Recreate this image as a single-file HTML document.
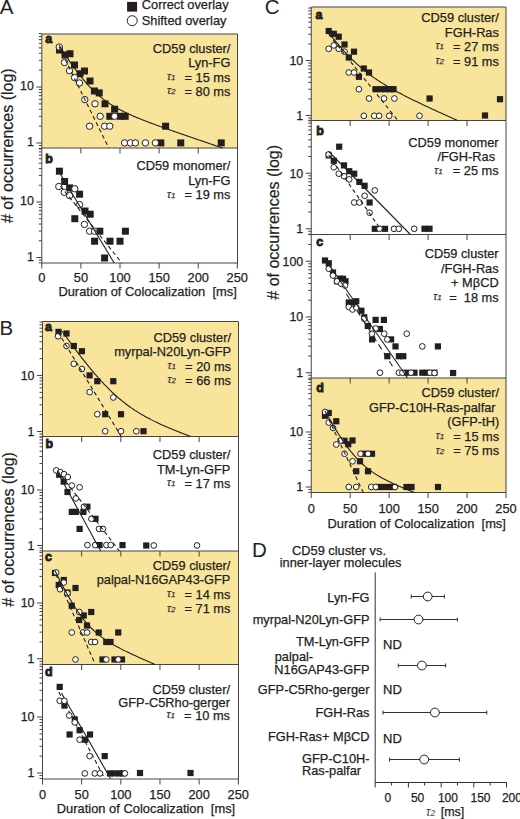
<!DOCTYPE html><html><head><meta charset="utf-8"><style>html,body{margin:0;padding:0;background:#fff;width:520px;height:819px;overflow:hidden}svg{display:block}text{font-family:"Liberation Sans",sans-serif}</style></head><body><svg width="520" height="819" viewBox="0 0 520 819" font-family="Liberation Sans, sans-serif">
<rect width="520" height="819" fill="#fff"/>
<text x="-0.2" y="13.6" font-size="20.5" text-anchor="start" font-weight="normal" font-style="normal" fill="#231f20"  >A</text>
<rect x="127.1" y="1.9" width="10" height="9.7" fill="#231f20"/>
<circle cx="132.2" cy="20.7" r="5" fill="#fff" stroke="#231f20" stroke-width="1"/>
<text x="141.8" y="9.2" font-size="12.8" text-anchor="start" font-weight="normal" font-style="normal" fill="#231f20"  stroke="#231f20" stroke-width="0.25">Correct overlay</text>
<text x="141.8" y="24.9" font-size="12.8" text-anchor="start" font-weight="normal" font-style="normal" fill="#231f20"  stroke="#231f20" stroke-width="0.25">Shifted overlay</text>
<rect x="41.8" y="34" width="195.7" height="114" fill="#f8e49b"/>
<path d="M38.80,148.43H41.8 M38.80,145.56H41.8 M36.30,143.00H41.8 M38.80,126.14H41.8 M38.80,116.28H41.8 M38.80,109.28H41.8 M38.80,103.86H41.8 M38.80,99.42H41.8 M38.80,95.67H41.8 M38.80,92.43H41.8 M38.80,89.56H41.8 M36.30,87.00H41.8 M38.80,70.14H41.8 M38.80,60.28H41.8 M38.80,53.28H41.8 M38.80,47.86H41.8 M38.80,43.42H41.8 M38.80,39.67H41.8 M38.80,36.43H41.8 M38.80,33.56H41.8" stroke="#4a4244" stroke-width="1" fill="none"/>
<text x="33.80" y="146.20" font-size="12.4" text-anchor="end" font-weight="normal" font-style="normal" fill="#231f20"  stroke="#231f20" stroke-width="0.25">1</text>
<text x="33.80" y="90.20" font-size="12.4" text-anchor="end" font-weight="normal" font-style="normal" fill="#231f20"  stroke="#231f20" stroke-width="0.25">10</text>
<path d="M38.80,262.88H41.8 M38.80,260.04H41.8 M36.30,257.50H41.8 M38.80,240.79H41.8 M38.80,231.02H41.8 M38.80,224.09H41.8 M38.80,218.71H41.8 M38.80,214.31H41.8 M38.80,210.60H41.8 M38.80,207.38H41.8 M38.80,204.54H41.8 M36.30,202.00H41.8 M38.80,185.29H41.8 M38.80,175.52H41.8 M38.80,168.59H41.8 M38.80,163.21H41.8 M38.80,158.81H41.8 M38.80,155.10H41.8 M38.80,151.88H41.8 M38.80,149.04H41.8" stroke="#4a4244" stroke-width="1" fill="none"/>
<text x="33.80" y="260.70" font-size="12.4" text-anchor="end" font-weight="normal" font-style="normal" fill="#231f20"  stroke="#231f20" stroke-width="0.25">1</text>
<text x="33.80" y="205.20" font-size="12.4" text-anchor="end" font-weight="normal" font-style="normal" fill="#231f20"  stroke="#231f20" stroke-width="0.25">10</text>
<path d="M41.8,34H237.5V263H41.8Z M41.8,148H237.5" stroke="#4a4244" stroke-width="1" fill="none"/>
<path d="M80.90,148v5.5 M120.00,148v5.5 M159.10,148v5.5 M198.20,148v5.5" stroke="#4a4244" stroke-width="1" fill="none"/>
<path d="M41.80,263v5.5 M80.90,263v5.5 M120.00,263v5.5 M159.10,263v5.5 M198.20,263v5.5 M237.30,263v5.5" stroke="#4a4244" stroke-width="1" fill="none"/>
<text x="41.80" y="281.8" font-size="12.8" text-anchor="middle" font-weight="normal" font-style="normal" fill="#231f20"  stroke="#231f20" stroke-width="0.25">0</text>
<text x="80.90" y="281.8" font-size="12.8" text-anchor="middle" font-weight="normal" font-style="normal" fill="#231f20"  stroke="#231f20" stroke-width="0.25">50</text>
<text x="120.00" y="281.8" font-size="12.8" text-anchor="middle" font-weight="normal" font-style="normal" fill="#231f20"  stroke="#231f20" stroke-width="0.25">100</text>
<text x="159.10" y="281.8" font-size="12.8" text-anchor="middle" font-weight="normal" font-style="normal" fill="#231f20"  stroke="#231f20" stroke-width="0.25">150</text>
<text x="198.20" y="281.8" font-size="12.8" text-anchor="middle" font-weight="normal" font-style="normal" fill="#231f20"  stroke="#231f20" stroke-width="0.25">200</text>
<text x="237.30" y="281.8" font-size="12.8" text-anchor="middle" font-weight="normal" font-style="normal" fill="#231f20"  stroke="#231f20" stroke-width="0.25">250</text>
<text x="58.4" y="296.3" font-size="12.9" text-anchor="start" font-weight="normal" font-style="normal" fill="#231f20"  stroke="#231f20" stroke-width="0.25">Duration of Colocalization&#160; [ms]</text>
<text transform="translate(13.2,145.7) rotate(-90)" x="0" y="0" font-size="16" text-anchor="middle" fill="#231f20" stroke="#231f20" stroke-width="0.2">#&#160;of occurrences (log)</text>
<text x="45.2" y="42.8" font-size="12.4" text-anchor="start" font-weight="bold" font-style="normal" fill="#231f20"  stroke="#231f20" stroke-width="0.9">a</text>
<text x="45.2" y="163.1" font-size="12.4" text-anchor="start" font-weight="bold" font-style="normal" fill="#231f20"  stroke="#231f20" stroke-width="0.9">b</text>
<text x="230.4" y="52.60" font-size="12.8" text-anchor="end" font-weight="normal" font-style="normal" fill="#231f20"  stroke="#231f20" stroke-width="0.25">CD59 cluster/</text>
<text x="230.4" y="67.10" font-size="12.8" text-anchor="end" font-weight="normal" font-style="normal" fill="#231f20"  stroke="#231f20" stroke-width="0.25">Lyn-FG</text>
<text x="230.4" y="81.60" font-size="12.8" text-anchor="end" font-weight="normal" font-style="normal" fill="#231f20"  stroke="#231f20" stroke-width="0.25">= 15 ms</text>
<text x="167.00" y="79.70" font-size="10.5" font-style="italic" fill="#3a3234" stroke="#3a3234" stroke-width="0.25" font-family="Liberation Serif">τ<tspan font-size="8">1</tspan></text>
<text x="230.4" y="96.10" font-size="12.8" text-anchor="end" font-weight="normal" font-style="normal" fill="#231f20"  stroke="#231f20" stroke-width="0.25">= 80 ms</text>
<text x="167.00" y="94.20" font-size="10.5" font-style="italic" fill="#3a3234" stroke="#3a3234" stroke-width="0.25" font-family="Liberation Serif">τ<tspan font-size="8">2</tspan></text>
<text x="230.4" y="170.40" font-size="12.8" text-anchor="end" font-weight="normal" font-style="normal" fill="#231f20"  stroke="#231f20" stroke-width="0.25">CD59 monomer/</text>
<text x="230.4" y="184.90" font-size="12.8" text-anchor="end" font-weight="normal" font-style="normal" fill="#231f20"  stroke="#231f20" stroke-width="0.25">Lyn-FG</text>
<text x="230.4" y="199.40" font-size="12.8" text-anchor="end" font-weight="normal" font-style="normal" fill="#231f20"  stroke="#231f20" stroke-width="0.25">= 19 ms</text>
<text x="167.00" y="197.50" font-size="10.5" font-style="italic" fill="#3a3234" stroke="#3a3234" stroke-width="0.25" font-family="Liberation Serif">τ<tspan font-size="8">1</tspan></text>
<g fill="#231f20"><rect x="56.00" y="46.50" width="7" height="7"/><rect x="61.50" y="51.50" width="7" height="7"/><rect x="66.50" y="50.25" width="7" height="7"/><rect x="71.00" y="61.50" width="7" height="7"/><rect x="76.50" y="70.25" width="7" height="7"/><rect x="81.00" y="67.50" width="7" height="7"/><rect x="86.50" y="77.50" width="7" height="7"/><rect x="90.90" y="87.50" width="7" height="7"/><rect x="95.70" y="89.40" width="7" height="7"/><rect x="101.50" y="100.30" width="7" height="7"/><rect x="111.10" y="105.70" width="7" height="7"/><rect x="106.30" y="112.80" width="7" height="7"/><rect x="116.90" y="112.80" width="7" height="7"/><rect x="121.70" y="112.80" width="7" height="7"/><rect x="162.10" y="122.70" width="7" height="7"/><rect x="157.30" y="139.40" width="7" height="7"/><rect x="177.25" y="139.40" width="7" height="7"/><rect x="217.75" y="139.40" width="7" height="7"/></g>
<g fill="#fff" stroke="#231f20" stroke-width="1"><circle cx="59.25" cy="47.00" r="3.2"/><circle cx="64.50" cy="62.50" r="3.2"/><circle cx="69.50" cy="70.75" r="3.2"/><circle cx="74.50" cy="77.50" r="3.2"/><circle cx="79.50" cy="83.00" r="3.2"/><circle cx="84.80" cy="99.60" r="3.2"/><circle cx="95.00" cy="103.80" r="3.2"/><circle cx="100.20" cy="116.30" r="3.2"/><circle cx="114.60" cy="116.30" r="3.2"/><circle cx="89.60" cy="126.20" r="3.2"/><circle cx="104.60" cy="126.20" r="3.2"/><circle cx="109.80" cy="126.20" r="3.2"/><circle cx="124.60" cy="142.90" r="3.2"/><circle cx="130.40" cy="142.90" r="3.2"/><circle cx="135.40" cy="142.90" r="3.2"/><circle cx="145.40" cy="142.90" r="3.2"/><circle cx="155.40" cy="142.90" r="3.2"/></g>
<g fill="#231f20"><rect x="55.90" y="167.70" width="7" height="7"/><rect x="61.10" y="178.00" width="7" height="7"/><rect x="66.10" y="184.40" width="7" height="7"/><rect x="76.10" y="190.70" width="7" height="7"/><rect x="81.50" y="207.50" width="7" height="7"/><rect x="86.70" y="210.70" width="7" height="7"/><rect x="71.30" y="215.20" width="7" height="7"/><rect x="96.30" y="227.70" width="7" height="7"/><rect x="121.90" y="227.70" width="7" height="7"/><rect x="91.10" y="237.70" width="7" height="7"/><rect x="106.50" y="237.70" width="7" height="7"/><rect x="116.50" y="237.70" width="7" height="7"/><rect x="101.10" y="254.50" width="7" height="7"/></g>
<g fill="#fff" stroke="#231f20" stroke-width="1"><circle cx="58.80" cy="186.50" r="3.2"/><circle cx="64.20" cy="192.30" r="3.2"/><circle cx="69.60" cy="195.60" r="3.2"/><circle cx="74.80" cy="188.80" r="3.2"/><circle cx="79.60" cy="204.60" r="3.2"/><circle cx="84.40" cy="224.40" r="3.2"/><circle cx="89.60" cy="231.20" r="3.2"/><circle cx="94.60" cy="231.20" r="3.2"/></g>
<text x="-0.5" y="335.2" font-size="20.5" text-anchor="start" font-weight="normal" font-style="normal" fill="#231f20"  >B</text>
<rect x="42.5" y="321.5" width="196.0" height="115" fill="#f8e49b"/>
<rect x="42.5" y="551" width="196.0" height="113.5" fill="#f8e49b"/>
<path d="M39.50,436.93H42.5 M39.50,434.06H42.5 M37.00,431.50H42.5 M39.50,414.64H42.5 M39.50,404.78H42.5 M39.50,397.78H42.5 M39.50,392.36H42.5 M39.50,387.92H42.5 M39.50,384.17H42.5 M39.50,380.93H42.5 M39.50,378.06H42.5 M37.00,375.50H42.5 M39.50,358.64H42.5 M39.50,348.78H42.5 M39.50,341.78H42.5 M39.50,336.36H42.5 M39.50,331.92H42.5 M39.50,328.17H42.5 M39.50,324.93H42.5 M39.50,322.06H42.5" stroke="#4a4244" stroke-width="1" fill="none"/>
<text x="34.50" y="435.80" font-size="12.4" text-anchor="end" font-weight="normal" font-style="normal" fill="#231f20"  stroke="#231f20" stroke-width="0.25">1</text>
<text x="34.50" y="379.80" font-size="12.4" text-anchor="end" font-weight="normal" font-style="normal" fill="#231f20"  stroke="#231f20" stroke-width="0.25">10</text>
<path d="M39.50,550.88H42.5 M39.50,548.04H42.5 M37.00,545.50H42.5 M39.50,528.79H42.5 M39.50,519.02H42.5 M39.50,512.09H42.5 M39.50,506.71H42.5 M39.50,502.31H42.5 M39.50,498.60H42.5 M39.50,495.38H42.5 M39.50,492.54H42.5 M37.00,490.00H42.5 M39.50,473.29H42.5 M39.50,463.52H42.5 M39.50,456.59H42.5 M39.50,451.21H42.5 M39.50,446.81H42.5 M39.50,443.10H42.5 M39.50,439.88H42.5 M39.50,437.04H42.5" stroke="#4a4244" stroke-width="1" fill="none"/>
<text x="34.50" y="549.80" font-size="12.4" text-anchor="end" font-weight="normal" font-style="normal" fill="#231f20"  stroke="#231f20" stroke-width="0.25">1</text>
<text x="34.50" y="494.30" font-size="12.4" text-anchor="end" font-weight="normal" font-style="normal" fill="#231f20"  stroke="#231f20" stroke-width="0.25">10</text>
<path d="M39.50,664.15H42.5 M39.50,661.30H42.5 M37.00,658.75H42.5 M39.50,641.97H42.5 M39.50,632.15H42.5 M39.50,625.19H42.5 M39.50,619.78H42.5 M39.50,615.37H42.5 M39.50,611.64H42.5 M39.50,608.40H42.5 M39.50,605.55H42.5 M37.00,603.00H42.5 M39.50,586.22H42.5 M39.50,576.40H42.5 M39.50,569.44H42.5 M39.50,564.03H42.5 M39.50,559.62H42.5 M39.50,555.89H42.5 M39.50,552.65H42.5" stroke="#4a4244" stroke-width="1" fill="none"/>
<text x="34.50" y="663.05" font-size="12.4" text-anchor="end" font-weight="normal" font-style="normal" fill="#231f20"  stroke="#231f20" stroke-width="0.25">1</text>
<text x="34.50" y="607.30" font-size="12.4" text-anchor="end" font-weight="normal" font-style="normal" fill="#231f20"  stroke="#231f20" stroke-width="0.25">10</text>
<path d="M39.50,778.43H42.5 M39.50,775.56H42.5 M37.00,773.00H42.5 M39.50,756.14H42.5 M39.50,746.28H42.5 M39.50,739.28H42.5 M39.50,733.86H42.5 M39.50,729.42H42.5 M39.50,725.67H42.5 M39.50,722.43H42.5 M39.50,719.56H42.5 M37.00,717.00H42.5 M39.50,700.14H42.5 M39.50,690.28H42.5 M39.50,683.28H42.5 M39.50,677.86H42.5 M39.50,673.42H42.5 M39.50,669.67H42.5 M39.50,666.43H42.5" stroke="#4a4244" stroke-width="1" fill="none"/>
<text x="34.50" y="777.30" font-size="12.4" text-anchor="end" font-weight="normal" font-style="normal" fill="#231f20"  stroke="#231f20" stroke-width="0.25">1</text>
<text x="34.50" y="721.30" font-size="12.4" text-anchor="end" font-weight="normal" font-style="normal" fill="#231f20"  stroke="#231f20" stroke-width="0.25">10</text>
<path d="M42.5,321.5H238.5V779H42.5Z M42.5,436.5H238.5 M42.5,551H238.5 M42.5,664.5H238.5" stroke="#4a4244" stroke-width="1" fill="none"/>
<path d="M81.66,436.5v5.5 M120.82,436.5v5.5 M159.98,436.5v5.5 M199.14,436.5v5.5" stroke="#4a4244" stroke-width="1" fill="none"/>
<path d="M81.66,551v5.5 M120.82,551v5.5 M159.98,551v5.5 M199.14,551v5.5" stroke="#4a4244" stroke-width="1" fill="none"/>
<path d="M81.66,664.5v5.5 M120.82,664.5v5.5 M159.98,664.5v5.5 M199.14,664.5v5.5" stroke="#4a4244" stroke-width="1" fill="none"/>
<path d="M42.50,779v5.5 M81.66,779v5.5 M120.82,779v5.5 M159.98,779v5.5 M199.14,779v5.5 M238.30,779v5.5" stroke="#4a4244" stroke-width="1" fill="none"/>
<text x="42.50" y="799.3" font-size="12.8" text-anchor="middle" font-weight="normal" font-style="normal" fill="#231f20"  stroke="#231f20" stroke-width="0.25">0</text>
<text x="81.66" y="799.3" font-size="12.8" text-anchor="middle" font-weight="normal" font-style="normal" fill="#231f20"  stroke="#231f20" stroke-width="0.25">50</text>
<text x="120.82" y="799.3" font-size="12.8" text-anchor="middle" font-weight="normal" font-style="normal" fill="#231f20"  stroke="#231f20" stroke-width="0.25">100</text>
<text x="159.98" y="799.3" font-size="12.8" text-anchor="middle" font-weight="normal" font-style="normal" fill="#231f20"  stroke="#231f20" stroke-width="0.25">150</text>
<text x="199.14" y="799.3" font-size="12.8" text-anchor="middle" font-weight="normal" font-style="normal" fill="#231f20"  stroke="#231f20" stroke-width="0.25">200</text>
<text x="238.30" y="799.3" font-size="12.8" text-anchor="middle" font-weight="normal" font-style="normal" fill="#231f20"  stroke="#231f20" stroke-width="0.25">250</text>
<text x="56.8" y="813" font-size="12.9" text-anchor="start" font-weight="normal" font-style="normal" fill="#231f20"  stroke="#231f20" stroke-width="0.25">Duration of Colocalization&#160; [ms]</text>
<text transform="translate(13.5,529.5) rotate(-90)" x="0" y="0" font-size="16" text-anchor="middle" fill="#231f20" stroke="#231f20" stroke-width="0.2">#&#160;of occurrences (log)</text>
<text x="45" y="330.6" font-size="12.4" text-anchor="start" font-weight="bold" font-style="normal" fill="#231f20"  stroke="#231f20" stroke-width="0.9">a</text>
<text x="45.6" y="448.3" font-size="12.4" text-anchor="start" font-weight="bold" font-style="normal" fill="#231f20"  stroke="#231f20" stroke-width="0.9">b</text>
<text x="45" y="560.5" font-size="12.4" text-anchor="start" font-weight="bold" font-style="normal" fill="#231f20"  stroke="#231f20" stroke-width="0.9">c</text>
<text x="45" y="675.5" font-size="12.4" text-anchor="start" font-weight="bold" font-style="normal" fill="#231f20"  stroke="#231f20" stroke-width="0.9">d</text>
<text x="231.0" y="341.90" font-size="12.8" text-anchor="end" font-weight="normal" font-style="normal" fill="#231f20"  stroke="#231f20" stroke-width="0.25">CD59 cluster/</text>
<text x="231.0" y="356.37" font-size="12.8" text-anchor="end" font-weight="normal" font-style="normal" fill="#231f20"  stroke="#231f20" stroke-width="0.25">myrpal-N20Lyn-GFP</text>
<text x="231.0" y="370.84" font-size="12.8" text-anchor="end" font-weight="normal" font-style="normal" fill="#231f20"  stroke="#231f20" stroke-width="0.25">= 20 ms</text>
<text x="167.60" y="368.94" font-size="10.5" font-style="italic" fill="#3a3234" stroke="#3a3234" stroke-width="0.25" font-family="Liberation Serif">τ<tspan font-size="8">1</tspan></text>
<text x="231.0" y="385.31" font-size="12.8" text-anchor="end" font-weight="normal" font-style="normal" fill="#231f20"  stroke="#231f20" stroke-width="0.25">= 66 ms</text>
<text x="167.60" y="383.41" font-size="10.5" font-style="italic" fill="#3a3234" stroke="#3a3234" stroke-width="0.25" font-family="Liberation Serif">τ<tspan font-size="8">2</tspan></text>
<text x="230.4" y="459.15" font-size="12.8" text-anchor="end" font-weight="normal" font-style="normal" fill="#231f20"  stroke="#231f20" stroke-width="0.25">CD59 cluster/</text>
<text x="230.4" y="473.55" font-size="12.8" text-anchor="end" font-weight="normal" font-style="normal" fill="#231f20"  stroke="#231f20" stroke-width="0.25">TM-Lyn-GFP</text>
<text x="230.4" y="487.95" font-size="12.8" text-anchor="end" font-weight="normal" font-style="normal" fill="#231f20"  stroke="#231f20" stroke-width="0.25">= 17 ms</text>
<text x="167.00" y="486.05" font-size="10.5" font-style="italic" fill="#3a3234" stroke="#3a3234" stroke-width="0.25" font-family="Liberation Serif">τ<tspan font-size="8">1</tspan></text>
<text x="230.4" y="569.90" font-size="12.8" text-anchor="end" font-weight="normal" font-style="normal" fill="#231f20"  stroke="#231f20" stroke-width="0.25">CD59 cluster/</text>
<text x="230.4" y="584.40" font-size="12.8" text-anchor="end" font-weight="normal" font-style="normal" fill="#231f20"  stroke="#231f20" stroke-width="0.25">palpal-N16GAP43-GFP</text>
<text x="230.4" y="598.90" font-size="12.8" text-anchor="end" font-weight="normal" font-style="normal" fill="#231f20"  stroke="#231f20" stroke-width="0.25">= 14 ms</text>
<text x="167.00" y="597.00" font-size="10.5" font-style="italic" fill="#3a3234" stroke="#3a3234" stroke-width="0.25" font-family="Liberation Serif">τ<tspan font-size="8">1</tspan></text>
<text x="230.4" y="613.40" font-size="12.8" text-anchor="end" font-weight="normal" font-style="normal" fill="#231f20"  stroke="#231f20" stroke-width="0.25">= 71 ms</text>
<text x="167.00" y="611.50" font-size="10.5" font-style="italic" fill="#3a3234" stroke="#3a3234" stroke-width="0.25" font-family="Liberation Serif">τ<tspan font-size="8">2</tspan></text>
<text x="230.0" y="694.10" font-size="12.8" text-anchor="end" font-weight="normal" font-style="normal" fill="#231f20"  stroke="#231f20" stroke-width="0.25">CD59 cluster/</text>
<text x="230.0" y="706.80" font-size="12.8" text-anchor="end" font-weight="normal" font-style="normal" fill="#231f20"  stroke="#231f20" stroke-width="0.25">GFP-C5Rho-gerger</text>
<text x="230.0" y="719.50" font-size="12.8" text-anchor="end" font-weight="normal" font-style="normal" fill="#231f20"  stroke="#231f20" stroke-width="0.25">= 10 ms</text>
<text x="166.60" y="717.60" font-size="10.5" font-style="italic" fill="#3a3234" stroke="#3a3234" stroke-width="0.25" font-family="Liberation Serif">τ<tspan font-size="8">1</tspan></text>
<g fill="#231f20"><rect x="55.40" y="328.80" width="6.2" height="6.2"/><rect x="63.40" y="330.40" width="6.2" height="6.2"/><rect x="70.70" y="342.90" width="6.2" height="6.2"/><rect x="78.80" y="348.10" width="6.2" height="6.2"/><rect x="86.50" y="372.30" width="6.2" height="6.2"/><rect x="94.20" y="378.10" width="6.2" height="6.2"/><rect x="110.20" y="378.10" width="6.2" height="6.2"/><rect x="102.10" y="411.10" width="6.2" height="6.2"/><rect x="117.90" y="411.10" width="6.2" height="6.2"/><rect x="140.40" y="428.10" width="6.2" height="6.2"/></g>
<g fill="#fff" stroke="#231f20" stroke-width="1"><circle cx="58.10" cy="336.30" r="2.85"/><circle cx="66.50" cy="346.00" r="2.85"/><circle cx="73.80" cy="363.80" r="2.85"/><circle cx="81.90" cy="369.00" r="2.85"/><circle cx="89.60" cy="392.10" r="2.85"/><circle cx="113.30" cy="397.50" r="2.85"/><circle cx="97.30" cy="414.20" r="2.85"/><circle cx="105.20" cy="431.20" r="2.85"/><circle cx="121.00" cy="431.20" r="2.85"/><circle cx="136.30" cy="431.20" r="2.85"/></g>
<g fill="#231f20"><rect x="56.10" y="471.60" width="6.2" height="6.2"/><rect x="60.60" y="478.50" width="6.2" height="6.2"/><rect x="64.40" y="488.90" width="6.2" height="6.2"/><rect x="68.70" y="508.80" width="6.2" height="6.2"/><rect x="72.70" y="508.80" width="6.2" height="6.2"/><rect x="80.30" y="508.80" width="6.2" height="6.2"/><rect x="84.30" y="503.60" width="6.2" height="6.2"/><rect x="92.40" y="515.70" width="6.2" height="6.2"/><rect x="76.50" y="525.80" width="6.2" height="6.2"/><rect x="96.40" y="542.00" width="6.2" height="6.2"/><rect x="119.40" y="542.00" width="6.2" height="6.2"/><rect x="143.15" y="542.40" width="6.2" height="6.2"/></g>
<g fill="#fff" stroke="#231f20" stroke-width="1"><circle cx="56.20" cy="470.40" r="2.85"/><circle cx="60.20" cy="472.10" r="2.85"/><circle cx="64.00" cy="474.20" r="2.85"/><circle cx="67.80" cy="477.00" r="2.85"/><circle cx="71.80" cy="485.60" r="2.85"/><circle cx="79.60" cy="487.30" r="2.85"/><circle cx="75.80" cy="498.40" r="2.85"/><circle cx="83.90" cy="506.70" r="2.85"/><circle cx="91.40" cy="518.80" r="2.85"/><circle cx="99.00" cy="528.90" r="2.85"/><circle cx="103.00" cy="528.90" r="2.85"/><circle cx="87.40" cy="545.10" r="2.85"/><circle cx="95.20" cy="545.10" r="2.85"/><circle cx="106.40" cy="545.10" r="2.85"/><circle cx="110.70" cy="545.10" r="2.85"/><circle cx="153.75" cy="545.50" r="2.85"/><circle cx="197.00" cy="545.50" r="2.85"/></g>
<g fill="#231f20"><rect x="51.90" y="569.90" width="6.2" height="6.2"/><rect x="60.65" y="576.90" width="6.2" height="6.2"/><rect x="55.65" y="581.90" width="6.2" height="6.2"/><rect x="72.40" y="584.90" width="6.2" height="6.2"/><rect x="64.40" y="589.40" width="6.2" height="6.2"/><rect x="68.65" y="602.65" width="6.2" height="6.2"/><rect x="76.15" y="616.90" width="6.2" height="6.2"/><rect x="80.65" y="612.40" width="6.2" height="6.2"/><rect x="88.15" y="608.90" width="6.2" height="6.2"/><rect x="83.90" y="622.40" width="6.2" height="6.2"/><rect x="95.65" y="629.40" width="6.2" height="6.2"/><rect x="115.15" y="629.40" width="6.2" height="6.2"/><rect x="103.15" y="638.90" width="6.2" height="6.2"/><rect x="107.40" y="638.90" width="6.2" height="6.2"/><rect x="99.40" y="656.40" width="6.2" height="6.2"/><rect x="111.40" y="656.40" width="6.2" height="6.2"/><rect x="118.90" y="656.40" width="6.2" height="6.2"/></g>
<g fill="#fff" stroke="#231f20" stroke-width="1"><circle cx="56.25" cy="572.50" r="2.85"/><circle cx="63.75" cy="582.50" r="2.85"/><circle cx="60.00" cy="589.25" r="2.85"/><circle cx="67.50" cy="593.25" r="2.85"/><circle cx="79.25" cy="612.00" r="2.85"/><circle cx="71.75" cy="632.50" r="2.85"/><circle cx="83.00" cy="632.50" r="2.85"/><circle cx="87.00" cy="632.50" r="2.85"/><circle cx="91.25" cy="642.00" r="2.85"/><circle cx="95.00" cy="642.00" r="2.85"/><circle cx="75.50" cy="659.50" r="2.85"/><circle cx="106.25" cy="659.50" r="2.85"/><circle cx="118.25" cy="659.50" r="2.85"/></g>
<path d="M61.40,693.00 L110.50,778.50" stroke="#231f20" stroke-width="1.1" fill="none"/>
<path d="M58.80,692.10 L104.70,778.50" stroke="#231f20" stroke-width="1.1" fill="none" stroke-dasharray="4,3"/>
<g fill="#231f20"><rect x="56.60" y="683.80" width="6.2" height="6.2"/><rect x="61.30" y="702.50" width="6.2" height="6.2"/><rect x="71.70" y="716.30" width="6.2" height="6.2"/><rect x="76.50" y="727.10" width="6.2" height="6.2"/><rect x="66.50" y="731.40" width="6.2" height="6.2"/><rect x="86.90" y="731.40" width="6.2" height="6.2"/><rect x="82.00" y="736.60" width="6.2" height="6.2"/><rect x="101.60" y="753.00" width="6.2" height="6.2"/><rect x="106.80" y="770.30" width="6.2" height="6.2"/><rect x="111.40" y="770.30" width="6.2" height="6.2"/><rect x="116.40" y="770.30" width="6.2" height="6.2"/><rect x="119.40" y="770.30" width="6.2" height="6.2"/><rect x="136.90" y="769.90" width="6.2" height="6.2"/><rect x="187.40" y="769.90" width="6.2" height="6.2"/></g>
<g fill="#fff" stroke="#231f20" stroke-width="1"><circle cx="59.70" cy="700.80" r="2.85"/><circle cx="64.40" cy="700.80" r="2.85"/><circle cx="69.20" cy="715.50" r="2.85"/><circle cx="74.80" cy="722.40" r="2.85"/><circle cx="79.60" cy="739.70" r="2.85"/><circle cx="89.60" cy="756.10" r="2.85"/><circle cx="84.80" cy="773.40" r="2.85"/><circle cx="94.80" cy="773.40" r="2.85"/><circle cx="100.00" cy="773.40" r="2.85"/><circle cx="124.90" cy="773.40" r="2.85"/></g>
<text x="264.8" y="14.3" font-size="20.5" text-anchor="start" font-weight="normal" font-style="normal" fill="#231f20"  >C</text>
<rect x="311.25" y="7" width="194.75" height="113.5" fill="#f8e49b"/>
<rect x="311.25" y="378" width="194.75" height="114.5" fill="#f8e49b"/>
<path d="M308.25,120.83H311.25 M308.25,118.02H311.25 M305.75,115.50H311.25 M308.25,98.94H311.25 M308.25,89.26H311.25 M308.25,82.39H311.25 M308.25,77.06H311.25 M308.25,72.70H311.25 M308.25,69.02H311.25 M308.25,65.83H311.25 M308.25,63.02H311.25 M305.75,60.50H311.25 M308.25,43.94H311.25 M308.25,34.26H311.25 M308.25,27.39H311.25 M308.25,22.06H311.25 M308.25,17.70H311.25 M308.25,14.02H311.25 M308.25,10.83H311.25 M308.25,8.02H311.25" stroke="#4a4244" stroke-width="1" fill="none"/>
<text x="303.25" y="119.80" font-size="12.4" text-anchor="end" font-weight="normal" font-style="normal" fill="#231f20"  stroke="#231f20" stroke-width="0.25">1</text>
<text x="303.25" y="64.80" font-size="12.4" text-anchor="end" font-weight="normal" font-style="normal" fill="#231f20"  stroke="#231f20" stroke-width="0.25">10</text>
<path d="M308.25,234.13H311.25 M308.25,231.29H311.25 M305.75,228.75H311.25 M308.25,212.04H311.25 M308.25,202.27H311.25 M308.25,195.34H311.25 M308.25,189.96H311.25 M308.25,185.56H311.25 M308.25,181.85H311.25 M308.25,178.63H311.25 M308.25,175.79H311.25 M305.75,173.25H311.25 M308.25,156.54H311.25 M308.25,146.77H311.25 M308.25,139.84H311.25 M308.25,134.46H311.25 M308.25,130.06H311.25 M308.25,126.35H311.25 M308.25,123.13H311.25 M308.25,120.29H311.25" stroke="#4a4244" stroke-width="1" fill="none"/>
<text x="303.25" y="233.05" font-size="12.4" text-anchor="end" font-weight="normal" font-style="normal" fill="#231f20"  stroke="#231f20" stroke-width="0.25">1</text>
<text x="303.25" y="177.55" font-size="12.4" text-anchor="end" font-weight="normal" font-style="normal" fill="#231f20"  stroke="#231f20" stroke-width="0.25">10</text>
<path d="M308.25,378.15H311.25 M308.25,375.30H311.25 M305.75,372.75H311.25 M308.25,355.97H311.25 M308.25,346.15H311.25 M308.25,339.19H311.25 M308.25,333.78H311.25 M308.25,329.37H311.25 M308.25,325.64H311.25 M308.25,322.40H311.25 M308.25,319.55H311.25 M305.75,317.00H311.25 M308.25,300.22H311.25 M308.25,290.40H311.25 M308.25,283.44H311.25 M308.25,278.03H311.25 M308.25,273.62H311.25 M308.25,269.89H311.25 M308.25,266.65H311.25 M308.25,263.80H311.25 M305.75,261.25H311.25 M308.25,244.47H311.25 M308.25,234.65H311.25" stroke="#4a4244" stroke-width="1" fill="none"/>
<text x="303.25" y="377.05" font-size="12.4" text-anchor="end" font-weight="normal" font-style="normal" fill="#231f20"  stroke="#231f20" stroke-width="0.25">1</text>
<text x="303.25" y="321.30" font-size="12.4" text-anchor="end" font-weight="normal" font-style="normal" fill="#231f20"  stroke="#231f20" stroke-width="0.25">10</text>
<text x="303.25" y="265.55" font-size="12.4" text-anchor="end" font-weight="normal" font-style="normal" fill="#231f20"  stroke="#231f20" stroke-width="0.25">100</text>
<path d="M308.25,492.33H311.25 M308.25,489.52H311.25 M305.75,487.00H311.25 M308.25,470.44H311.25 M308.25,460.76H311.25 M308.25,453.89H311.25 M308.25,448.56H311.25 M308.25,444.20H311.25 M308.25,440.52H311.25 M308.25,437.33H311.25 M308.25,434.52H311.25 M305.75,432.00H311.25 M308.25,415.44H311.25 M308.25,405.76H311.25 M308.25,398.89H311.25 M308.25,393.56H311.25 M308.25,389.20H311.25 M308.25,385.52H311.25 M308.25,382.33H311.25 M308.25,379.52H311.25" stroke="#4a4244" stroke-width="1" fill="none"/>
<text x="303.25" y="491.30" font-size="12.4" text-anchor="end" font-weight="normal" font-style="normal" fill="#231f20"  stroke="#231f20" stroke-width="0.25">1</text>
<text x="303.25" y="436.30" font-size="12.4" text-anchor="end" font-weight="normal" font-style="normal" fill="#231f20"  stroke="#231f20" stroke-width="0.25">10</text>
<path d="M311.25,7H506V492.5H311.25Z M311.25,120.5H506 M311.25,234.5H506 M311.25,378H506" stroke="#4a4244" stroke-width="1" fill="none"/>
<path d="M350.20,120.5v5.5 M389.15,120.5v5.5 M428.10,120.5v5.5 M467.05,120.5v5.5" stroke="#4a4244" stroke-width="1" fill="none"/>
<path d="M350.20,234.5v5.5 M389.15,234.5v5.5 M428.10,234.5v5.5 M467.05,234.5v5.5" stroke="#4a4244" stroke-width="1" fill="none"/>
<path d="M350.20,378v5.5 M389.15,378v5.5 M428.10,378v5.5 M467.05,378v5.5" stroke="#4a4244" stroke-width="1" fill="none"/>
<path d="M311.25,492.5v5.5 M350.20,492.5v5.5 M389.15,492.5v5.5 M428.10,492.5v5.5 M467.05,492.5v5.5 M506.00,492.5v5.5" stroke="#4a4244" stroke-width="1" fill="none"/>
<text x="311.25" y="512.5" font-size="12.8" text-anchor="middle" font-weight="normal" font-style="normal" fill="#231f20"  stroke="#231f20" stroke-width="0.25">0</text>
<text x="350.20" y="512.5" font-size="12.8" text-anchor="middle" font-weight="normal" font-style="normal" fill="#231f20"  stroke="#231f20" stroke-width="0.25">50</text>
<text x="389.15" y="512.5" font-size="12.8" text-anchor="middle" font-weight="normal" font-style="normal" fill="#231f20"  stroke="#231f20" stroke-width="0.25">100</text>
<text x="428.10" y="512.5" font-size="12.8" text-anchor="middle" font-weight="normal" font-style="normal" fill="#231f20"  stroke="#231f20" stroke-width="0.25">150</text>
<text x="467.05" y="512.5" font-size="12.8" text-anchor="middle" font-weight="normal" font-style="normal" fill="#231f20"  stroke="#231f20" stroke-width="0.25">200</text>
<text x="506.00" y="512.5" font-size="12.8" text-anchor="middle" font-weight="normal" font-style="normal" fill="#231f20"  stroke="#231f20" stroke-width="0.25">250</text>
<text x="327.5" y="527.5" font-size="12.9" text-anchor="start" font-weight="normal" font-style="normal" fill="#231f20"  stroke="#231f20" stroke-width="0.25">Duration of Colocalization&#160; [ms]</text>
<text transform="translate(279,222.3) rotate(-90)" x="0" y="0" font-size="16" text-anchor="middle" fill="#231f20" stroke="#231f20" stroke-width="0.2">#&#160;of occurrences (log)</text>
<text x="315.5" y="18.75" font-size="12.4" text-anchor="start" font-weight="bold" font-style="normal" fill="#231f20"  stroke="#231f20" stroke-width="0.9">a</text>
<text x="316.25" y="135" font-size="12.4" text-anchor="start" font-weight="bold" font-style="normal" fill="#231f20"  stroke="#231f20" stroke-width="0.9">b</text>
<text x="316.25" y="245.5" font-size="12.4" text-anchor="start" font-weight="bold" font-style="normal" fill="#231f20"  stroke="#231f20" stroke-width="0.9">c</text>
<text x="316.25" y="392" font-size="12.4" text-anchor="start" font-weight="bold" font-style="normal" fill="#231f20"  stroke="#231f20" stroke-width="0.9">d</text>
<text x="498.9" y="22.00" font-size="12.8" text-anchor="end" font-weight="normal" font-style="normal" fill="#231f20"  stroke="#231f20" stroke-width="0.25">CD59 cluster/</text>
<text x="498.9" y="36.60" font-size="12.8" text-anchor="end" font-weight="normal" font-style="normal" fill="#231f20"  stroke="#231f20" stroke-width="0.25">FGH-Ras</text>
<text x="498.9" y="51.20" font-size="12.8" text-anchor="end" font-weight="normal" font-style="normal" fill="#231f20"  stroke="#231f20" stroke-width="0.25">= 27 ms</text>
<text x="435.50" y="49.30" font-size="10.5" font-style="italic" fill="#3a3234" stroke="#3a3234" stroke-width="0.25" font-family="Liberation Serif">τ<tspan font-size="8">1</tspan></text>
<text x="498.9" y="65.80" font-size="12.8" text-anchor="end" font-weight="normal" font-style="normal" fill="#231f20"  stroke="#231f20" stroke-width="0.25">= 91 ms</text>
<text x="435.50" y="63.90" font-size="10.5" font-style="italic" fill="#3a3234" stroke="#3a3234" stroke-width="0.25" font-family="Liberation Serif">τ<tspan font-size="8">2</tspan></text>
<text x="498.65" y="146.65" font-size="12.8" text-anchor="end" font-weight="normal" font-style="normal" fill="#231f20"  stroke="#231f20" stroke-width="0.25">CD59 monomer</text>
<text x="498.65" y="161.05" font-size="12.8" text-anchor="end" font-weight="normal" font-style="normal" fill="#231f20"  stroke="#231f20" stroke-width="0.25">/FGH-Ras&#160;</text>
<text x="498.65" y="175.45" font-size="12.8" text-anchor="end" font-weight="normal" font-style="normal" fill="#231f20"  stroke="#231f20" stroke-width="0.25">= 25 ms</text>
<text x="434.25" y="173.55" font-size="10.5" font-style="italic" fill="#3a3234" stroke="#3a3234" stroke-width="0.25" font-family="Liberation Serif">τ<tspan font-size="8">1</tspan></text>
<text x="498.65" y="257.90" font-size="12.8" text-anchor="end" font-weight="normal" font-style="normal" fill="#231f20"  stroke="#231f20" stroke-width="0.25">CD59 cluster</text>
<text x="498.65" y="272.50" font-size="12.8" text-anchor="end" font-weight="normal" font-style="normal" fill="#231f20"  stroke="#231f20" stroke-width="0.25">/FGH-Ras</text>
<text x="498.65" y="287.10" font-size="12.8" text-anchor="end" font-weight="normal" font-style="normal" fill="#231f20"  stroke="#231f20" stroke-width="0.25">+ MβCD</text>
<text x="498.65" y="301.70" font-size="12.8" text-anchor="end" font-weight="normal" font-style="normal" fill="#231f20"  stroke="#231f20" stroke-width="0.25">= &#160;18 ms</text>
<text x="433.25" y="299.80" font-size="10.5" font-style="italic" fill="#3a3234" stroke="#3a3234" stroke-width="0.25" font-family="Liberation Serif">τ<tspan font-size="8">1</tspan></text>
<text x="499.15" y="397.40" font-size="12.8" text-anchor="end" font-weight="normal" font-style="normal" fill="#231f20"  stroke="#231f20" stroke-width="0.25">CD59 cluster/</text>
<text x="499.15" y="411.90" font-size="12.8" text-anchor="end" font-weight="normal" font-style="normal" fill="#231f20"  stroke="#231f20" stroke-width="0.25">GFP-C10H-Ras-palfar&#160;</text>
<text x="499.15" y="426.40" font-size="12.8" text-anchor="end" font-weight="normal" font-style="normal" fill="#231f20"  stroke="#231f20" stroke-width="0.25">(GFP-tH)</text>
<text x="499.15" y="440.90" font-size="12.8" text-anchor="end" font-weight="normal" font-style="normal" fill="#231f20"  stroke="#231f20" stroke-width="0.25">= 15 ms</text>
<text x="435.75" y="439.00" font-size="10.5" font-style="italic" fill="#3a3234" stroke="#3a3234" stroke-width="0.25" font-family="Liberation Serif">τ<tspan font-size="8">1</tspan></text>
<text x="499.15" y="455.40" font-size="12.8" text-anchor="end" font-weight="normal" font-style="normal" fill="#231f20"  stroke="#231f20" stroke-width="0.25">= 75 ms</text>
<text x="435.75" y="453.50" font-size="10.5" font-style="italic" fill="#3a3234" stroke="#3a3234" stroke-width="0.25" font-family="Liberation Serif">τ<tspan font-size="8">2</tspan></text>
<g fill="#231f20"><rect x="325.60" y="27.90" width="6.2" height="6.2"/><rect x="330.70" y="30.70" width="6.2" height="6.2"/><rect x="335.60" y="33.60" width="6.2" height="6.2"/><rect x="341.40" y="41.40" width="6.2" height="6.2"/><rect x="350.90" y="48.60" width="6.2" height="6.2"/><rect x="345.70" y="54.40" width="6.2" height="6.2"/><rect x="360.70" y="65.40" width="6.2" height="6.2"/><rect x="365.90" y="69.40" width="6.2" height="6.2"/><rect x="355.80" y="73.70" width="6.2" height="6.2"/><rect x="372.40" y="86.10" width="6.2" height="6.2"/><rect x="377.40" y="86.10" width="6.2" height="6.2"/><rect x="382.40" y="86.10" width="6.2" height="6.2"/><rect x="386.90" y="86.10" width="6.2" height="6.2"/><rect x="390.40" y="86.10" width="6.2" height="6.2"/><rect x="426.50" y="95.40" width="6.2" height="6.2"/><rect x="481.90" y="112.40" width="6.2" height="6.2"/><rect x="496.90" y="96.10" width="6.2" height="6.2"/></g>
<g fill="#fff" stroke="#231f20" stroke-width="1"><circle cx="328.70" cy="48.80" r="2.85"/><circle cx="333.80" cy="45.40" r="2.85"/><circle cx="338.70" cy="48.80" r="2.85"/><circle cx="344.50" cy="51.70" r="2.85"/><circle cx="348.80" cy="72.50" r="2.85"/><circle cx="354.00" cy="72.50" r="2.85"/><circle cx="358.90" cy="89.20" r="2.85"/><circle cx="369.00" cy="98.50" r="2.85"/><circle cx="384.00" cy="98.50" r="2.85"/><circle cx="394.40" cy="98.50" r="2.85"/><circle cx="363.80" cy="115.80" r="2.85"/><circle cx="374.20" cy="115.80" r="2.85"/><circle cx="379.10" cy="115.80" r="2.85"/><circle cx="389.20" cy="115.80" r="2.85"/><circle cx="419.50" cy="115.80" r="2.85"/></g>
<g fill="#231f20"><rect x="336.10" y="143.60" width="6.2" height="6.2"/><rect x="325.60" y="152.30" width="6.2" height="6.2"/><rect x="330.70" y="157.70" width="6.2" height="6.2"/><rect x="340.90" y="162.30" width="6.2" height="6.2"/><rect x="346.10" y="168.10" width="6.2" height="6.2"/><rect x="351.10" y="170.60" width="6.2" height="6.2"/><rect x="356.30" y="178.80" width="6.2" height="6.2"/><rect x="361.50" y="182.70" width="6.2" height="6.2"/><rect x="366.50" y="199.40" width="6.2" height="6.2"/><rect x="371.70" y="225.70" width="6.2" height="6.2"/><rect x="381.90" y="225.70" width="6.2" height="6.2"/><rect x="421.40" y="225.65" width="6.2" height="6.2"/><rect x="426.40" y="225.65" width="6.2" height="6.2"/></g>
<g fill="#fff" stroke="#231f20" stroke-width="1"><circle cx="328.70" cy="154.40" r="2.85"/><circle cx="333.80" cy="167.30" r="2.85"/><circle cx="338.80" cy="173.70" r="2.85"/><circle cx="344.00" cy="176.20" r="2.85"/><circle cx="349.20" cy="179.40" r="2.85"/><circle cx="354.20" cy="202.50" r="2.85"/><circle cx="359.40" cy="202.50" r="2.85"/><circle cx="364.60" cy="195.80" r="2.85"/><circle cx="374.80" cy="190.40" r="2.85"/><circle cx="369.60" cy="212.70" r="2.85"/><circle cx="379.60" cy="228.80" r="2.85"/><circle cx="394.00" cy="228.80" r="2.85"/><circle cx="398.80" cy="228.80" r="2.85"/><circle cx="414.20" cy="228.80" r="2.85"/></g>
<g fill="#231f20"><rect x="321.90" y="257.40" width="6.2" height="6.2"/><rect x="325.65" y="260.15" width="6.2" height="6.2"/><rect x="329.90" y="269.40" width="6.2" height="6.2"/><rect x="333.90" y="278.15" width="6.2" height="6.2"/><rect x="336.90" y="275.65" width="6.2" height="6.2"/><rect x="339.90" y="275.65" width="6.2" height="6.2"/><rect x="342.40" y="278.15" width="6.2" height="6.2"/><rect x="345.65" y="299.40" width="6.2" height="6.2"/><rect x="349.40" y="299.40" width="6.2" height="6.2"/><rect x="353.15" y="298.15" width="6.2" height="6.2"/><rect x="358.30" y="307.60" width="6.2" height="6.2"/><rect x="361.20" y="314.20" width="6.2" height="6.2"/><rect x="364.70" y="322.90" width="6.2" height="6.2"/><rect x="372.50" y="316.80" width="6.2" height="6.2"/><rect x="380.80" y="316.80" width="6.2" height="6.2"/><rect x="376.80" y="325.90" width="6.2" height="6.2"/><rect x="369.00" y="336.30" width="6.2" height="6.2"/><rect x="388.00" y="336.30" width="6.2" height="6.2"/><rect x="392.40" y="343.30" width="6.2" height="6.2"/><rect x="384.20" y="353.10" width="6.2" height="6.2"/><rect x="395.80" y="353.10" width="6.2" height="6.2"/><rect x="400.20" y="353.10" width="6.2" height="6.2"/><rect x="434.80" y="343.30" width="6.2" height="6.2"/><rect x="403.60" y="369.60" width="6.2" height="6.2"/><rect x="411.40" y="369.60" width="6.2" height="6.2"/><rect x="419.20" y="369.60" width="6.2" height="6.2"/><rect x="423.50" y="369.60" width="6.2" height="6.2"/><rect x="431.30" y="369.60" width="6.2" height="6.2"/><rect x="450.00" y="369.90" width="6.2" height="6.2"/></g>
<g fill="#fff" stroke="#231f20" stroke-width="1"><circle cx="328.75" cy="268.75" r="2.85"/><circle cx="333.00" cy="275.50" r="2.85"/><circle cx="337.00" cy="281.25" r="2.85"/><circle cx="341.25" cy="283.75" r="2.85"/><circle cx="345.00" cy="285.50" r="2.85"/><circle cx="348.75" cy="307.00" r="2.85"/><circle cx="352.50" cy="309.50" r="2.85"/><circle cx="356.25" cy="307.50" r="2.85"/><circle cx="364.30" cy="318.70" r="2.85"/><circle cx="375.60" cy="328.50" r="2.85"/><circle cx="371.80" cy="333.70" r="2.85"/><circle cx="384.20" cy="333.70" r="2.85"/><circle cx="387.30" cy="339.40" r="2.85"/><circle cx="406.70" cy="333.70" r="2.85"/><circle cx="422.30" cy="346.40" r="2.85"/><circle cx="379.90" cy="372.70" r="2.85"/><circle cx="398.90" cy="372.70" r="2.85"/><circle cx="402.40" cy="372.70" r="2.85"/><circle cx="411.00" cy="372.70" r="2.85"/><circle cx="430.00" cy="372.70" r="2.85"/><circle cx="434.50" cy="373.00" r="2.85"/></g>
<g fill="#231f20"><rect x="325.65" y="409.90" width="6.2" height="6.2"/><rect x="321.90" y="412.65" width="6.2" height="6.2"/><rect x="333.15" y="418.15" width="6.2" height="6.2"/><rect x="341.40" y="437.65" width="6.2" height="6.2"/><rect x="345.15" y="441.15" width="6.2" height="6.2"/><rect x="349.40" y="437.40" width="6.2" height="6.2"/><rect x="356.90" y="458.15" width="6.2" height="6.2"/><rect x="353.15" y="468.15" width="6.2" height="6.2"/><rect x="364.90" y="468.15" width="6.2" height="6.2"/><rect x="361.40" y="450.65" width="6.2" height="6.2"/><rect x="368.90" y="450.65" width="6.2" height="6.2"/><rect x="375.65" y="483.90" width="6.2" height="6.2"/><rect x="379.90" y="483.90" width="6.2" height="6.2"/><rect x="384.90" y="483.90" width="6.2" height="6.2"/><rect x="389.40" y="483.90" width="6.2" height="6.2"/><rect x="403.40" y="483.90" width="6.2" height="6.2"/><rect x="408.40" y="483.90" width="6.2" height="6.2"/><rect x="434.90" y="483.90" width="6.2" height="6.2"/></g>
<g fill="#fff" stroke="#231f20" stroke-width="1"><circle cx="325.00" cy="412.00" r="2.85"/><circle cx="328.75" cy="422.50" r="2.85"/><circle cx="333.00" cy="428.00" r="2.85"/><circle cx="336.25" cy="444.50" r="2.85"/><circle cx="340.75" cy="440.50" r="2.85"/><circle cx="344.50" cy="453.75" r="2.85"/><circle cx="352.50" cy="461.25" r="2.85"/><circle cx="360.50" cy="453.75" r="2.85"/><circle cx="368.00" cy="453.75" r="2.85"/><circle cx="348.75" cy="487.00" r="2.85"/><circle cx="356.25" cy="487.00" r="2.85"/><circle cx="371.25" cy="487.00" r="2.85"/><circle cx="375.75" cy="487.00" r="2.85"/><circle cx="395.00" cy="487.00" r="2.85"/></g>
<text x="252" y="556.8" font-size="20.5" text-anchor="start" font-weight="normal" font-style="normal" fill="#231f20"  >D</text>
<text x="339" y="555" font-size="12.8" text-anchor="middle" font-weight="normal" font-style="normal" fill="#231f20"  stroke="#231f20" stroke-width="0.25">CD59 cluster vs.</text>
<text x="340.6" y="567.3" font-size="12.8" text-anchor="middle" font-weight="normal" font-style="normal" fill="#231f20"  stroke="#231f20" stroke-width="0.25">inner-layer molecules</text>
<path d="M375.2,572.4V787.5 M375.2,782.5H506.5" stroke="#38302f" stroke-width="1" fill="none"/>
<path d="M391.6,782.5v3 M408.4,782.5v5 M424.6,782.5v3 M441.2,782.5v5 M457.5,782.5v3 M473.8,782.5v5 M490.2,782.5v3 M506.5,782.5v5" stroke="#38302f" stroke-width="1" fill="none"/>
<text x="387.9" y="801.7" font-size="12" text-anchor="middle" font-weight="normal" font-style="normal" fill="#231f20"  stroke="#231f20" stroke-width="0.25">0</text>
<text x="417.6" y="801.7" font-size="12" text-anchor="middle" font-weight="normal" font-style="normal" fill="#231f20"  stroke="#231f20" stroke-width="0.25">50</text>
<text x="447.9" y="801.7" font-size="12" text-anchor="middle" font-weight="normal" font-style="normal" fill="#231f20"  stroke="#231f20" stroke-width="0.25">100</text>
<text x="480.5" y="801.7" font-size="12" text-anchor="middle" font-weight="normal" font-style="normal" fill="#231f20"  stroke="#231f20" stroke-width="0.25">150</text>
<text x="511.9" y="801.7" font-size="12" text-anchor="middle" font-weight="normal" font-style="normal" fill="#231f20"  stroke="#231f20" stroke-width="0.25">200</text>
<text x="426" y="816" font-size="12" font-style="italic" fill="#4a4244" font-family="Liberation Serif">τ<tspan font-size="8.5">2</tspan></text>
<text x="440.7" y="816.1" font-size="12.5" text-anchor="start" font-weight="normal" font-style="normal" fill="#231f20"  stroke="#231f20" stroke-width="0.25">[ms]</text>
<text x="369.5" y="601.75" font-size="12.8" text-anchor="end" font-weight="normal" font-style="normal" fill="#231f20"  stroke="#231f20" stroke-width="0.25">Lyn-FG</text>
<text x="369.5" y="623.5" font-size="12.8" text-anchor="end" font-weight="normal" font-style="normal" fill="#231f20"  stroke="#231f20" stroke-width="0.25">myrpal-N20Lyn-GFP</text>
<text x="369.5" y="645.7" font-size="12.8" text-anchor="end" font-weight="normal" font-style="normal" fill="#231f20"  stroke="#231f20" stroke-width="0.25">TM-Lyn-GFP</text>
<text x="369.5" y="693.5" font-size="12.8" text-anchor="end" font-weight="normal" font-style="normal" fill="#231f20"  stroke="#231f20" stroke-width="0.25">GFP-C5Rho-gerger</text>
<text x="369.5" y="717" font-size="12.8" text-anchor="end" font-weight="normal" font-style="normal" fill="#231f20"  stroke="#231f20" stroke-width="0.25">FGH-Ras</text>
<text x="369.5" y="741.2" font-size="12.8" text-anchor="end" font-weight="normal" font-style="normal" fill="#231f20"  stroke="#231f20" stroke-width="0.25">FGH-Ras+ MβCD</text>
<text x="274.7" y="660.7" font-size="12.8" text-anchor="start" font-weight="normal" font-style="normal" fill="#231f20"  stroke="#231f20" stroke-width="0.25">palpal-</text>
<text x="369.6" y="673.6" font-size="12.8" text-anchor="end" font-weight="normal" font-style="normal" fill="#231f20"  stroke="#231f20" stroke-width="0.25">N16GAP43-GFP</text>
<text x="302" y="762.5" font-size="12.8" text-anchor="start" font-weight="normal" font-style="normal" fill="#231f20"  stroke="#231f20" stroke-width="0.25">GFP-C10H-</text>
<text x="302" y="775.2" font-size="12.8" text-anchor="start" font-weight="normal" font-style="normal" fill="#231f20"  stroke="#231f20" stroke-width="0.25">Ras-palfar</text>
<text x="383" y="649.3" font-size="13" text-anchor="start" font-weight="normal" font-style="normal" fill="#231f20"  stroke="#231f20" stroke-width="0.25">ND</text>
<text x="383" y="694" font-size="13" text-anchor="start" font-weight="normal" font-style="normal" fill="#231f20"  stroke="#231f20" stroke-width="0.25">ND</text>
<text x="383" y="743.4" font-size="13" text-anchor="start" font-weight="normal" font-style="normal" fill="#231f20"  stroke="#231f20" stroke-width="0.25">ND</text>
<path d="M411.25,596.5H444.4 M411.25,594.5v4 M444.4,594.5v4" stroke="#38302f" stroke-width="1" fill="none"/>
<circle cx="427.7" cy="596.5" r="4.4" fill="#fff" stroke="#231f20" stroke-width="1"/>
<path d="M380.1,619.5H457.4 M380.1,617.5v4 M457.4,617.5v4" stroke="#38302f" stroke-width="1" fill="none"/>
<circle cx="418.5" cy="619.5" r="4.4" fill="#fff" stroke="#231f20" stroke-width="1"/>
<path d="M398.3,665.5H445.6 M398.3,663.5v4 M445.6,663.5v4" stroke="#38302f" stroke-width="1" fill="none"/>
<circle cx="421.9" cy="665.5" r="4.4" fill="#fff" stroke="#231f20" stroke-width="1"/>
<path d="M383,712.5H486.8 M383,710.5v4 M486.8,710.5v4" stroke="#38302f" stroke-width="1" fill="none"/>
<circle cx="434.9" cy="712.5" r="4.4" fill="#fff" stroke="#231f20" stroke-width="1"/>
<path d="M389.6,759.5H459.4 M389.6,757.5v4 M459.4,757.5v4" stroke="#38302f" stroke-width="1" fill="none"/>
<circle cx="424.2" cy="759.5" r="4.4" fill="#fff" stroke="#231f20" stroke-width="1"/>
<path d="M59.00,47.00 L108.80,148.00" stroke="#231f20" stroke-width="1.1" fill="none" stroke-dasharray="4,3"/>
<path d="M59.00,44.97 L60.00,46.57 L61.00,48.16 L62.00,49.74 L63.00,51.31 L64.00,52.86 L65.00,54.40 L66.00,55.92 L67.00,57.43 L68.00,58.93 L69.00,60.41 L70.00,61.88 L71.00,63.32 L72.00,64.75 L73.00,66.17 L74.00,67.56 L75.00,68.94 L76.00,70.29 L77.00,71.63 L78.00,72.95 L79.00,74.25 L80.00,75.52 L81.00,76.78 L82.00,78.01 L83.00,79.22 L84.00,80.41 L85.00,81.58 L86.00,82.73 L87.00,83.85 L88.00,84.96 L89.00,86.04 L90.00,87.09 L91.00,88.13 L92.00,89.14 L93.00,90.13 L94.00,91.10 L95.00,92.04 L96.00,92.97 L97.00,93.87 L98.00,94.75 L99.00,95.61 L100.00,96.46 L101.00,97.28 L102.00,98.08 L103.00,98.86 L104.00,99.63 L105.00,100.37 L106.00,101.10 L107.00,101.81 L108.00,102.51 L109.00,103.19 L110.00,103.85 L111.00,104.50 L112.00,105.13 L113.00,105.75 L114.00,106.36 L115.00,106.95 L116.00,107.53 L117.00,108.10 L118.00,108.66 L119.00,109.20 L120.00,109.74 L121.00,110.26 L122.00,110.78 L123.00,111.29 L124.00,111.79 L125.00,112.28 L126.00,112.76 L127.00,113.23 L128.00,113.70 L129.00,114.16 L130.00,114.61 L131.00,115.06 L132.00,115.50 L133.00,115.94 L134.00,116.37 L135.00,116.80 L136.00,117.22 L137.00,117.63 L138.00,118.05 L139.00,118.46 L140.00,118.86 L141.00,119.26 L142.00,119.66 L143.00,120.05 L144.00,120.44 L145.00,120.83 L146.00,121.22 L147.00,121.60 L148.00,121.98 L149.00,122.36 L150.00,122.74 L151.00,123.11 L152.00,123.48 L153.00,123.86 L154.00,124.22 L155.00,124.59 L156.00,124.96 L157.00,125.32 L158.00,125.68 L159.00,126.05 L160.00,126.41 L161.00,126.77 L162.00,127.12 L163.00,127.48 L164.00,127.84 L165.00,128.19 L166.00,128.55 L167.00,128.90 L168.00,129.26 L169.00,129.61 L170.00,129.96 L171.00,130.31 L172.00,130.66 L173.00,131.01 L174.00,131.36 L175.00,131.71 L176.00,132.06 L177.00,132.41 L178.00,132.75 L179.00,133.10 L180.00,133.45 L181.00,133.79 L182.00,134.14 L183.00,134.49 L184.00,134.83 L185.00,135.18 L186.00,135.52 L187.00,135.87 L188.00,136.21 L189.00,136.56 L190.00,136.90 L191.00,137.24 L192.00,137.59 L193.00,137.93 L194.00,138.27 L195.00,138.62 L196.00,138.96 L197.00,139.30 L198.00,139.65 L199.00,139.99 L200.00,140.33 L201.00,140.68 L202.00,141.02 L203.00,141.36 L204.00,141.70 L205.00,142.05 L206.00,142.39 L207.00,142.73 L208.00,143.07 L209.00,143.41 L210.00,143.76 L211.00,144.10 L212.00,144.44 L213.00,144.78 L214.00,145.12 L215.00,145.46 L216.00,145.81 L217.00,146.15 L218.00,146.49 L219.00,146.83 L220.00,147.17 L221.00,147.51 L222.00,147.86 L222.42,148.00" stroke="#231f20" stroke-width="1.1" fill="none"/>
<path d="M59.40,172.50 L114.20,263.00" stroke="#231f20" stroke-width="1.1" fill="none"/>
<path d="M60.40,186.00 L121.90,263.00" stroke="#231f20" stroke-width="1.1" fill="none" stroke-dasharray="4,3"/>
<path d="M58.00,332.00 L121.20,436.50" stroke="#231f20" stroke-width="1.1" fill="none" stroke-dasharray="4,3"/>
<path d="M62.00,331.04 L63.00,332.45 L64.00,333.84 L65.00,335.24 L66.00,336.63 L67.00,338.01 L68.00,339.39 L69.00,340.76 L70.00,342.13 L71.00,343.50 L72.00,344.86 L73.00,346.21 L74.00,347.56 L75.00,348.90 L76.00,350.23 L77.00,351.56 L78.00,352.88 L79.00,354.19 L80.00,355.50 L81.00,356.80 L82.00,358.09 L83.00,359.38 L84.00,360.65 L85.00,361.92 L86.00,363.18 L87.00,364.42 L88.00,365.66 L89.00,366.89 L90.00,368.12 L91.00,369.33 L92.00,370.53 L93.00,371.72 L94.00,372.90 L95.00,374.06 L96.00,375.22 L97.00,376.37 L98.00,377.50 L99.00,378.62 L100.00,379.73 L101.00,380.83 L102.00,381.92 L103.00,382.99 L104.00,384.05 L105.00,385.10 L106.00,386.13 L107.00,387.16 L108.00,388.16 L109.00,389.16 L110.00,390.14 L111.00,391.11 L112.00,392.06 L113.00,393.00 L114.00,393.93 L115.00,394.85 L116.00,395.75 L117.00,396.63 L118.00,397.50 L119.00,398.36 L120.00,399.21 L121.00,400.04 L122.00,400.86 L123.00,401.67 L124.00,402.46 L125.00,403.24 L126.00,404.01 L127.00,404.76 L128.00,405.50 L129.00,406.23 L130.00,406.95 L131.00,407.66 L132.00,408.35 L133.00,409.03 L134.00,409.70 L135.00,410.36 L136.00,411.01 L137.00,411.65 L138.00,412.28 L139.00,412.90 L140.00,413.51 L141.00,414.11 L142.00,414.70 L143.00,415.28 L144.00,415.85 L145.00,416.41 L146.00,416.97 L147.00,417.51 L148.00,418.05 L149.00,418.58 L150.00,419.10 L151.00,419.62 L152.00,420.13 L153.00,420.63 L154.00,421.13 L155.00,421.62 L156.00,422.10 L157.00,422.58 L158.00,423.05 L159.00,423.52 L160.00,423.98 L161.00,424.44 L162.00,424.89 L163.00,425.34 L164.00,425.78 L165.00,426.22 L166.00,426.66 L167.00,427.09 L168.00,427.51 L169.00,427.94 L170.00,428.35 L171.00,428.77 L172.00,429.18 L173.00,429.59 L174.00,430.00 L175.00,430.40 L176.00,430.80 L177.00,431.20 L178.00,431.60 L179.00,431.99 L180.00,432.38 L181.00,432.77 L182.00,433.16 L183.00,433.54 L184.00,433.93 L185.00,434.31 L186.00,434.69 L187.00,435.06 L188.00,435.44 L189.00,435.81 L190.00,436.19 L190.85,436.50" stroke="#231f20" stroke-width="1.1" fill="none"/>
<path d="M58.00,473.00 L100.70,551.00" stroke="#231f20" stroke-width="1.1" fill="none"/>
<path d="M57.50,470.70 L119.40,551.00" stroke="#231f20" stroke-width="1.1" fill="none" stroke-dasharray="4,3"/>
<path d="M55.80,574.20 L95.30,664.50" stroke="#231f20" stroke-width="1.1" fill="none" stroke-dasharray="4,3"/>
<path d="M55.00,570.79 L56.00,572.82 L57.00,574.82 L58.00,576.82 L59.00,578.79 L60.00,580.75 L61.00,582.69 L62.00,584.60 L63.00,586.50 L64.00,588.37 L65.00,590.22 L66.00,592.05 L67.00,593.85 L68.00,595.63 L69.00,597.38 L70.00,599.10 L71.00,600.79 L72.00,602.45 L73.00,604.08 L74.00,605.68 L75.00,607.25 L76.00,608.78 L77.00,610.29 L78.00,611.76 L79.00,613.19 L80.00,614.59 L81.00,615.96 L82.00,617.29 L83.00,618.59 L84.00,619.85 L85.00,621.08 L86.00,622.27 L87.00,623.44 L88.00,624.56 L89.00,625.66 L90.00,626.73 L91.00,627.76 L92.00,628.76 L93.00,629.74 L94.00,630.69 L95.00,631.60 L96.00,632.50 L97.00,633.36 L98.00,634.20 L99.00,635.02 L100.00,635.82 L101.00,636.59 L102.00,637.34 L103.00,638.08 L104.00,638.79 L105.00,639.49 L106.00,640.17 L107.00,640.83 L108.00,641.48 L109.00,642.11 L110.00,642.73 L111.00,643.34 L112.00,643.94 L113.00,644.52 L114.00,645.10 L115.00,645.66 L116.00,646.22 L117.00,646.76 L118.00,647.30 L119.00,647.83 L120.00,648.36 L121.00,648.87 L122.00,649.38 L123.00,649.89 L124.00,650.39 L125.00,650.88 L126.00,651.37 L127.00,651.86 L128.00,652.34 L129.00,652.82 L130.00,653.29 L131.00,653.76 L132.00,654.23 L133.00,654.69 L134.00,655.15 L135.00,655.61 L136.00,656.07 L137.00,656.52 L138.00,656.98 L139.00,657.43 L140.00,657.88 L141.00,658.32 L142.00,658.77 L143.00,659.22 L144.00,659.66 L145.00,660.10 L146.00,660.54 L147.00,660.98 L148.00,661.42 L149.00,661.86 L150.00,662.30 L151.00,662.73 L152.00,663.17 L153.00,663.61 L154.00,664.04 L155.00,664.47 L155.06,664.50" stroke="#231f20" stroke-width="1.1" fill="none"/>
<path d="M328.70,34.40 L397.90,120.50" stroke="#231f20" stroke-width="1.1" fill="none" stroke-dasharray="4,3"/>
<path d="M328.00,31.77 L329.00,33.07 L330.00,34.36 L331.00,35.63 L332.00,36.90 L333.00,38.15 L334.00,39.39 L335.00,40.62 L336.00,41.83 L337.00,43.03 L338.00,44.22 L339.00,45.39 L340.00,46.55 L341.00,47.69 L342.00,48.82 L343.00,49.94 L344.00,51.04 L345.00,52.13 L346.00,53.21 L347.00,54.26 L348.00,55.31 L349.00,56.34 L350.00,57.36 L351.00,58.36 L352.00,59.34 L353.00,60.32 L354.00,61.27 L355.00,62.22 L356.00,63.15 L357.00,64.06 L358.00,64.96 L359.00,65.85 L360.00,66.73 L361.00,67.59 L362.00,68.43 L363.00,69.27 L364.00,70.09 L365.00,70.90 L366.00,71.70 L367.00,72.48 L368.00,73.25 L369.00,74.02 L370.00,74.77 L371.00,75.50 L372.00,76.23 L373.00,76.95 L374.00,77.66 L375.00,78.35 L376.00,79.04 L377.00,79.72 L378.00,80.39 L379.00,81.05 L380.00,81.70 L381.00,82.34 L382.00,82.98 L383.00,83.61 L384.00,84.23 L385.00,84.84 L386.00,85.45 L387.00,86.04 L388.00,86.64 L389.00,87.22 L390.00,87.80 L391.00,88.38 L392.00,88.95 L393.00,89.51 L394.00,90.07 L395.00,90.62 L396.00,91.17 L397.00,91.71 L398.00,92.25 L399.00,92.78 L400.00,93.31 L401.00,93.84 L402.00,94.36 L403.00,94.88 L404.00,95.40 L405.00,95.91 L406.00,96.42 L407.00,96.93 L408.00,97.43 L409.00,97.93 L410.00,98.43 L411.00,98.93 L412.00,99.42 L413.00,99.91 L414.00,100.40 L415.00,100.89 L416.00,101.37 L417.00,101.85 L418.00,102.34 L419.00,102.81 L420.00,103.29 L421.00,103.77 L422.00,104.24 L423.00,104.71 L424.00,105.19 L425.00,105.66 L426.00,106.13 L427.00,106.59 L428.00,107.06 L429.00,107.53 L430.00,107.99 L431.00,108.45 L432.00,108.92 L433.00,109.38 L434.00,109.84 L435.00,110.30 L436.00,110.76 L437.00,111.21 L438.00,111.67 L439.00,112.13 L440.00,112.59 L441.00,113.04 L442.00,113.50 L443.00,113.95 L444.00,114.41 L445.00,114.86 L446.00,115.31 L447.00,115.76 L448.00,116.22 L449.00,116.67 L450.00,117.12 L451.00,117.57 L452.00,118.02 L453.00,118.47 L454.00,118.92 L455.00,119.37 L456.00,119.82 L457.00,120.27 L457.52,120.50" stroke="#231f20" stroke-width="1.1" fill="none"/>
<path d="M328.70,151.50 L410.40,234.50" stroke="#231f20" stroke-width="1.1" fill="none"/>
<path d="M328.70,155.00 L381.50,230.40" stroke="#231f20" stroke-width="1.1" fill="none" stroke-dasharray="4,3"/>
<path d="M325.00,259.00 L407.60,378.00" stroke="#231f20" stroke-width="1.1" fill="none"/>
<path d="M346.25,293.75 L392.50,366.25" stroke="#231f20" stroke-width="1.1" fill="none" stroke-dasharray="6,4"/>
<path d="M325.80,413.00 L363.30,492.50" stroke="#231f20" stroke-width="1.1" fill="none" stroke-dasharray="4,3"/>
<path d="M325.00,410.89 L326.00,412.71 L327.00,414.51 L328.00,416.30 L329.00,418.08 L330.00,419.84 L331.00,421.58 L332.00,423.31 L333.00,425.01 L334.00,426.70 L335.00,428.36 L336.00,430.01 L337.00,431.63 L338.00,433.24 L339.00,434.81 L340.00,436.37 L341.00,437.90 L342.00,439.40 L343.00,440.88 L344.00,442.33 L345.00,443.76 L346.00,445.16 L347.00,446.53 L348.00,447.87 L349.00,449.18 L350.00,450.46 L351.00,451.72 L352.00,452.94 L353.00,454.14 L354.00,455.31 L355.00,456.45 L356.00,457.55 L357.00,458.63 L358.00,459.69 L359.00,460.71 L360.00,461.71 L361.00,462.67 L362.00,463.62 L363.00,464.53 L364.00,465.42 L365.00,466.29 L366.00,467.13 L367.00,467.95 L368.00,468.75 L369.00,469.52 L370.00,470.28 L371.00,471.01 L372.00,471.72 L373.00,472.42 L374.00,473.09 L375.00,473.75 L376.00,474.40 L377.00,475.03 L378.00,475.64 L379.00,476.24 L380.00,476.82 L381.00,477.40 L382.00,477.96 L383.00,478.51 L384.00,479.05 L385.00,479.58 L386.00,480.09 L387.00,480.60 L388.00,481.10 L389.00,481.60 L390.00,482.08 L391.00,482.56 L392.00,483.03 L393.00,483.50 L394.00,483.96 L395.00,484.41 L396.00,484.86 L397.00,485.30 L398.00,485.74 L399.00,486.17 L400.00,486.60 L401.00,487.03 L402.00,487.45 L403.00,487.87 L404.00,488.29 L405.00,488.70 L406.00,489.11 L407.00,489.52 L408.00,489.93 L409.00,490.33 L410.00,490.73 L411.00,491.13 L412.00,491.53 L413.00,491.92 L414.00,492.32 L414.47,492.50" stroke="#231f20" stroke-width="1.1" fill="none"/>
</svg></body></html>
